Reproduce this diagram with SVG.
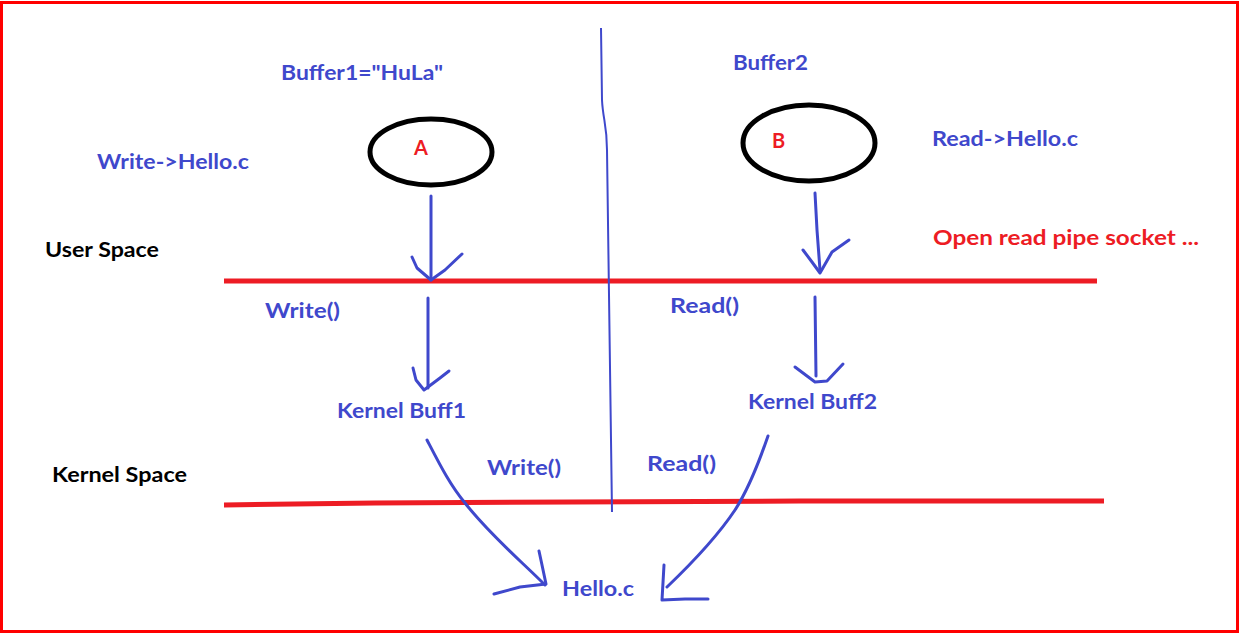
<svg xmlns="http://www.w3.org/2000/svg" width="1240" height="634" viewBox="0 0 1240 634">
<style>
text{font-family:"Lato","Open Sans","Liberation Sans",sans-serif;font-weight:bold;font-size:20px}
.b{fill:#3f48cc}
.r{fill:#ed1c24}
.k{fill:#000}
.ink{fill:none;stroke:#3f48cc;stroke-width:3;stroke-linecap:round;stroke-linejoin:round}
.sep{fill:none;stroke:#ed1c24;stroke-width:5}
.ell{fill:none;stroke:#000;stroke-width:5}
</style>
<rect x="1.5" y="2.5" width="1236" height="629" fill="#fff" stroke="#ff0000" stroke-width="3"/>
<g id="separators">
<path class="sep" d="M224 281 L1097 281"/>
<path class="sep" d="M224 505 L375 503 L800 501 L1104 501"/>
<path d="M601 28 L602 100 C603 120 607 125 607 150 L612 512" fill="none" stroke="#3f48cc" stroke-width="2"/>
</g>
<g id="nodeA">
<ellipse class="ell" cx="431" cy="152" rx="61" ry="33"/>
<text class="r" x="414" y="155">A</text>
</g>
<g id="nodeB">
<ellipse class="ell" cx="809" cy="143" rx="66" ry="38"/>
<text class="r" x="772" y="148">B</text>
</g>
<g id="connectors">
<path class="ink" d="M431 196 L431 280"/>
<path class="ink" d="M412 257 L417 268 L431 280 L445 270 L462 254"/>
<path class="ink" d="M815 193 L817 230 L820 270"/>
<path class="ink" d="M803 250 L812 262 L820 273 L832 252 L849 240"/>
<path class="ink" d="M428 298 L428 388"/>
<path class="ink" d="M413 368 L416 380 L424 390 L440 378 L449 371"/>
<path class="ink" d="M815 297 L816 376"/>
<path class="ink" d="M795 367 L807 376 L815 382 L827 381 L843 364"/>
<path class="ink" d="M427 440 C440 465 450 485 465 503 C490 535 520 560 545 585"/>
<path class="ink" d="M539 551 L542 565 L546 584 L520 587 L494 594"/>
<path class="ink" d="M768 436 C758 465 748 490 735 510 C715 540 690 565 667 587"/>
<path class="ink" d="M664 565 L662 600 L685 599 L708 599"/>
</g>
<g id="labels">
<text class="b" x="281" y="80" textLength="162" lengthAdjust="spacingAndGlyphs">Buffer1="HuLa"</text>
<text class="b" x="733" y="70" textLength="75" lengthAdjust="spacingAndGlyphs">Buffer2</text>
<text class="b" x="97" y="169" textLength="152" lengthAdjust="spacingAndGlyphs">Write-&gt;Hello.c</text>
<text class="b" x="932" y="146" textLength="146" lengthAdjust="spacingAndGlyphs">Read-&gt;Hello.c</text>
<text class="k" x="45" y="257" textLength="114" lengthAdjust="spacingAndGlyphs">User Space</text>
<text class="r" x="933" y="245" textLength="266" lengthAdjust="spacingAndGlyphs">Open read pipe socket ...</text>
<text class="b" x="265" y="318" textLength="75" lengthAdjust="spacingAndGlyphs">Write()</text>
<text class="b" x="670" y="313" textLength="69" lengthAdjust="spacingAndGlyphs">Read()</text>
<text class="b" x="337" y="418" textLength="129" lengthAdjust="spacingAndGlyphs">Kernel Buff1</text>
<text class="b" x="748" y="409" textLength="129" lengthAdjust="spacingAndGlyphs">Kernel Buff2</text>
<text class="b" x="487" y="475" textLength="74" lengthAdjust="spacingAndGlyphs">Write()</text>
<text class="b" x="647" y="471" textLength="69" lengthAdjust="spacingAndGlyphs">Read()</text>
<text class="k" x="52" y="482" textLength="135" lengthAdjust="spacingAndGlyphs">Kernel Space</text>
<text class="b" x="562" y="596" textLength="72" lengthAdjust="spacingAndGlyphs">Hello.c</text>
</g>
</svg>
